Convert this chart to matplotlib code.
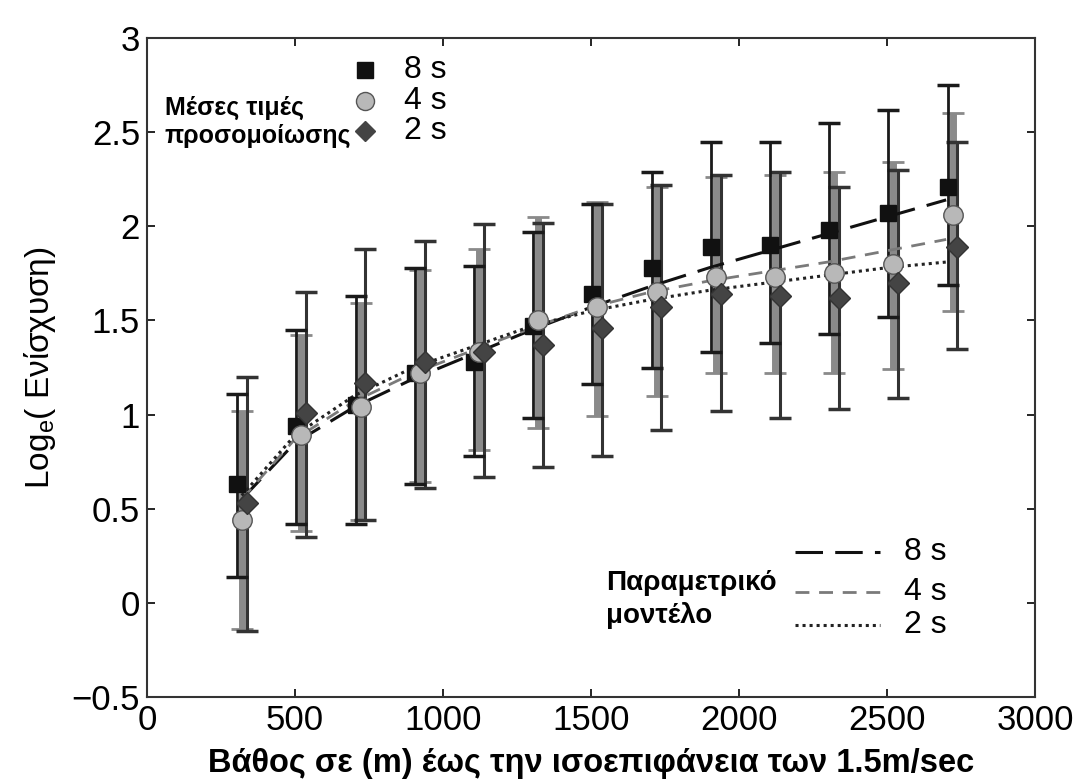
import matplotlib
matplotlib.use("Agg")
import matplotlib.pyplot as plt
from matplotlib.lines import Line2D
from matplotlib import font_manager

plt.rcParams['font.family'] = ['Liberation Sans', 'DejaVu Sans']

# ---- data ----
depths = [300, 500, 700, 900, 1100, 1300, 1500, 1700, 1900, 2100, 2300, 2500, 2700]

mean_8s = [0.63, 0.94, 1.05, 1.22, 1.28, 1.47, 1.64, 1.78, 1.89, 1.90, 1.98, 2.07, 2.21]
low_8s  = [0.14, 0.42, 0.42, 0.63, 0.78, 0.98, 1.16, 1.25, 1.33, 1.38, 1.43, 1.52, 1.69]
high_8s = [1.11, 1.45, 1.63, 1.78, 1.79, 1.97, 2.12, 2.29, 2.45, 2.45, 2.55, 2.62, 2.75]

mean_4s = [0.44, 0.89, 1.04, 1.22, 1.33, 1.50, 1.57, 1.65, 1.73, 1.73, 1.75, 1.80, 2.06]
low_4s  = [-0.14, 0.38, 0.44, 0.64, 0.81, 0.93, 0.99, 1.10, 1.22, 1.22, 1.22, 1.24, 1.55]
high_4s = [1.02, 1.42, 1.59, 1.77, 1.88, 2.05, 2.13, 2.21, 2.26, 2.27, 2.29, 2.34, 2.60]

mean_2s = [0.53, 1.01, 1.17, 1.28, 1.33, 1.37, 1.46, 1.57, 1.64, 1.63, 1.62, 1.70, 1.89]
low_2s  = [-0.15, 0.35, 0.44, 0.61, 0.67, 0.72, 0.78, 0.92, 1.02, 0.98, 1.03, 1.09, 1.35]
high_2s = [1.20, 1.65, 1.88, 1.92, 2.01, 2.02, 2.12, 2.22, 2.27, 2.29, 2.21, 2.30, 2.45]

model_depths = [320, 500, 700, 900, 1100, 1300, 1500, 1700, 1900, 2100, 2300, 2500, 2700]
model_8s = [0.55, 0.85, 1.04, 1.19, 1.32, 1.45, 1.57, 1.68, 1.78, 1.87, 1.96, 2.05, 2.14]
model_4s = [0.55, 0.87, 1.07, 1.22, 1.34, 1.46, 1.57, 1.65, 1.71, 1.76, 1.81, 1.87, 1.93]
model_2s = [0.57, 0.89, 1.10, 1.25, 1.36, 1.47, 1.55, 1.61, 1.66, 1.70, 1.74, 1.78, 1.81]

xticks = [0, 500, 1000, 1500, 2000, 2500, 3000]
yticks = [-0.5, 0, 0.5, 1, 1.5, 2, 2.5, 3]

installed = {f.name for f in font_manager.fontManager.ttflist}
narrow = ['Liberation Sans Narrow', 'Liberation Sans'] if 'Liberation Sans Narrow' in installed \
    else ['Liberation Sans', 'DejaVu Sans']

# ---- figure ----
fig = plt.figure(figsize=(10.79, 7.83), dpi=100)
ax = fig.add_axes([0.1362, 0.1098, 0.8230, 0.8417])

def err(mean, low, high):
    return [[m - l for m, l in zip(mean, low)], [h - m for m, h in zip(mean, high)]]

x8 = [d + 5 for d in depths]
x4 = [d + 22 for d in depths]
x2 = [d + 38 for d in depths]

# error bars
ax.errorbar(x4, mean_4s, yerr=err(mean_4s, low_4s, high_4s), fmt='none',
            ecolor='#8a8a8a', elinewidth=5, capsize=8, capthick=2, zorder=2)
ax.errorbar(x8, mean_8s, yerr=err(mean_8s, low_8s, high_8s), fmt='none',
            ecolor='#1a1a1a', elinewidth=2, capsize=8, capthick=2.5, zorder=2.2)
ax.errorbar(x2, mean_2s, yerr=err(mean_2s, low_2s, high_2s), fmt='none',
            ecolor='#333333', elinewidth=2.2, capsize=8, capthick=2.5, zorder=2.1)

# model curves
ax.plot(model_depths, model_8s, color='#111111', lw=2.2, dashes=(9, 4), zorder=3)
ax.plot(model_depths, model_4s, color='#7a7a7a', lw=2.0, dashes=(5, 3.5), zorder=3)
ax.plot(model_depths, model_2s, color='#222222', lw=2.2, dashes=(1, 1.3), zorder=3)

# markers
ax.plot(x8, mean_8s, 's', ms=12, mfc='#111111', mec='#111111', ls='none', zorder=4)
ax.plot(x4, mean_4s, 'o', ms=14, mfc='#b8b8b8', mec='#555555', mew=1, ls='none', zorder=4.1)
ax.plot(x2, mean_2s, 'D', ms=11, mfc='#444444', mec='#333333', ls='none', zorder=4.2)

ax.set_xlim(0, 3000)
ax.set_ylim(-0.5, 3)
ax.set_xticks(xticks)
ax.set_yticks(yticks)
ax.set_yticklabels(['\u22120.5', '0', '0.5', '1', '1.5', '2', '2.5', '3'])
ax.tick_params(direction='in', length=6, width=1.2, top=True, right=True,
               labelsize=25, pad=5)
for s in ax.spines.values():
    s.set_linewidth(1.5)
    s.set_color('#333333')

ax.set_xlabel('Βάθος σε (m) έως την ισοεπιφάνεια των 1.5m/sec',
              fontsize=23.5, fontweight='bold', labelpad=8)
ax.set_ylabel('Log$_\\mathregular{e}$( Ενίσχυση)', fontsize=24, labelpad=10)

# legend 1 (simulation means)
tr = ax.transAxes
ax.text(0.02, 0.872, 'Μέσες τιμές\nπροσομοίωσης', transform=tr, fontsize=18,
        fontweight='bold', family=narrow, ha='left', va='center', linespacing=1.2)
leg_y = [0.951, 0.904, 0.859]
ax.plot([0.245], [leg_y[0]], 's', ms=11, color='#111111', transform=tr, clip_on=False)
ax.plot([0.245], [leg_y[1]], 'o', ms=13, mfc='#b8b8b8', mec='#555555', transform=tr, clip_on=False)
ax.plot([0.245], [leg_y[2]], 'D', ms=10, color='#444444', transform=tr, clip_on=False)
for y, lab in zip(leg_y, ['8 s', '4 s', '2 s']):
    ax.text(0.29, y, lab, transform=tr, fontsize=23, ha='left', va='center')

# legend 2 (parametric model)
ax.text(0.517, 0.148, 'Παραμετρικό\nμοντέλο', transform=tr, fontsize=20,
        fontweight='bold', ha='left', va='center', linespacing=1.3)
l2y = [0.22, 0.159, 0.109]
styles = [dict(color='#111111', lw=2.2, dashes=(9, 4)),
          dict(color='#7a7a7a', lw=2.0, dashes=(5, 3.5)),
          dict(color='#222222', lw=2.2, dashes=(1, 1.3))]
for y, st, lab in zip(l2y, styles, ['8 s', '4 s', '2 s']):
    ax.add_line(Line2D([0.73, 0.825], [y, y], transform=tr, **st))
    ax.text(0.852, y, lab, transform=tr, fontsize=23, ha='left', va='center')

fig.savefig('out.png', dpi=100)
